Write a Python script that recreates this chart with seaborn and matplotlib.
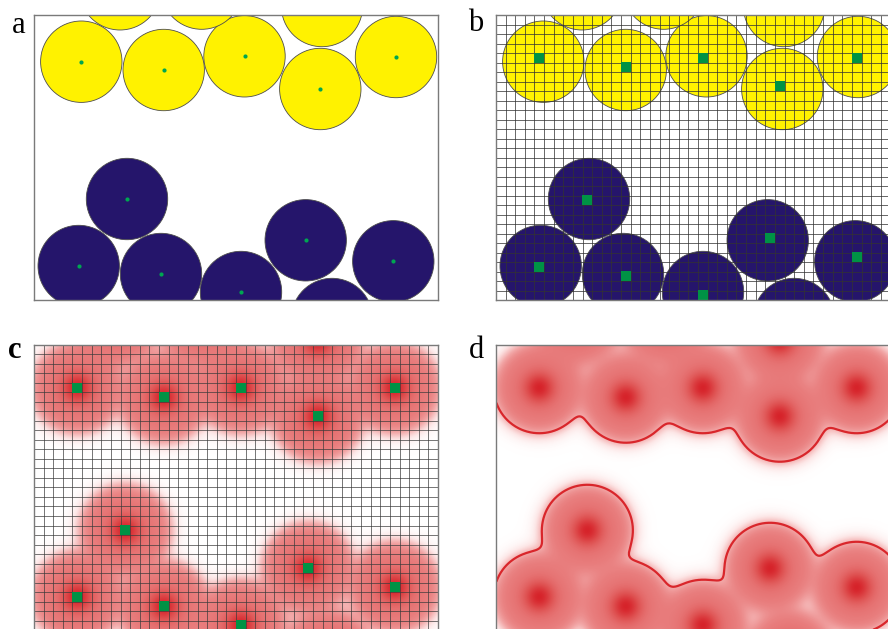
import numpy as np
import matplotlib
matplotlib.use("Agg")
import matplotlib.pyplot as plt
from matplotlib.patches import Circle
from matplotlib.colors import LinearSegmentedColormap
import seaborn as sns

sns.set_style("white")
plt.rcParams['font.family'] = ['Liberation Serif', 'DejaVu Serif']

# ---------------- data (frame pixel units, y downward) ----------------
frame_w = 404
frame_h = 285
n_cols = 42
n_rows = 30
radius = 40.7

yellow_x = [47.3, 129.7, 210.5, 286.3, 362.0, 86.0, 167.7, 288.0]
yellow_y = [46.7, 55.0, 41.3, 74.0, 42.0, -25.7, -26.4, -9.0]
blue_x = [93.0, 44.7, 127.0, 207.0, 271.7, 359.3, 298.0]
blue_y = [184.0, 251.0, 259.0, 277.0, 225.3, 246.3, 304.0]

panel_labels = ["a", "b", "c", "d"]

# ---------------- styles ----------------
YELLOW = "#fff200"
NAVY = "#25156b"
GREEN = "#009245"
EDGE = "#4d4d4d"
FRAME = "#7a7a7a"
CONTOUR = "#d9262b"

W, H = 888, 629
fig = plt.figure(figsize=(W / 100, H / 100), dpi=100)

def add_ax(left, top):
    return fig.add_axes([left / W, 1 - (top + frame_h) / H, frame_w / W, frame_h / H])

ax_a = add_ax(34, 15)
ax_b = add_ax(496, 15)
ax_c = add_ax(34, 345)
ax_d = add_ax(496, 345)

all_x = np.array(yellow_x + blue_x)
all_y = np.array(yellow_y + blue_y)

cw = frame_w / n_cols
ch = frame_h / n_rows
# particle centres snapped to the centre of the grid cell that contains them
grid_x = (np.floor(all_x / cw) + 0.5) * cw
grid_y = (np.floor(all_y / ch) + 0.5) * ch
inside = (all_x >= 0) & (all_x < frame_w) & (all_y >= 0) & (all_y < frame_h)
snap_x = grid_x[inside]
snap_y = grid_y[inside]


def style_frame(ax):
    ax.set_xlim(0, frame_w)
    ax.set_ylim(frame_h, 0)
    ax.set_xticks([])
    ax.set_yticks([])
    ax.set_xlabel("")
    ax.set_ylabel("")
    for s in ax.spines.values():
        s.set_visible(True)
        s.set_color(FRAME)
        s.set_linewidth(1.0)
        s.set_zorder(10)


def draw_particles(ax):
    for xs, ys, col in ((yellow_x, yellow_y, YELLOW), (blue_x, blue_y, NAVY)):
        for x, y in zip(xs, ys):
            ax.add_patch(Circle((x, y), radius, facecolor=col, edgecolor=EDGE,
                                linewidth=0.6, zorder=2))


def draw_grid(ax, color, alpha):
    gx = np.linspace(0, frame_w, n_cols + 1)
    gy = np.linspace(0, frame_h, n_rows + 1)
    ax.vlines(gx, 0, frame_h, color=color, linewidth=0.7, alpha=alpha, zorder=3)
    ax.hlines(gy, 0, frame_w, color=color, linewidth=0.7, alpha=alpha, zorder=3)


# ---------------- panel a ----------------
draw_particles(ax_a)
sns.scatterplot(x=all_x[inside], y=all_y[inside], ax=ax_a, color="#00a651", s=9,
                linewidth=0, zorder=4, legend=False)
style_frame(ax_a)

# ---------------- panel b ----------------
draw_particles(ax_b)
draw_grid(ax_b, "#333333", 0.75)
sns.scatterplot(x=snap_x, y=snap_y, ax=ax_b, color=GREEN, marker="s", s=44,
                linewidth=0, zorder=5, legend=False)
style_frame(ax_b)

# ---------------- field for c and d (centred on snapped cells) ----------------
gxp, gyp = np.meshgrid(np.arange(frame_w) + 0.5, np.arange(frame_h) + 0.5)
prod = np.ones_like(gxp)
peak = np.zeros_like(gxp)
for x, y in zip(grid_x, grid_y):
    d = np.hypot(gxp - x, gyp - y)
    p = 1.0 / (1.0 + np.exp((d - 47.3) / 4.5))
    prod *= (1.0 - p)
    peak += np.exp(-(d / 15.0) ** 2)
P = 1.0 - prod
V = 0.6 * P + 0.4 * np.clip(peak, 0, 1)

cmap = LinearSegmentedColormap.from_list(
    "redfield", [(0.0, "#ffffff"), (0.15, "#fce6e6"), (0.4, "#f1a4a4"),
                 (0.6, "#e77878"), (0.8, "#de5050"), (1.0, "#d6232a")])


def field_heatmap(ax):
    sns.heatmap(V, ax=ax, cmap=cmap, vmin=0, vmax=1, cbar=False,
                xticklabels=False, yticklabels=False, linewidths=0)
    mesh = ax.collections[0]
    mesh.set_edgecolor("face")
    mesh.set_linewidth(0)
    mesh.set_antialiased(False)


# ---------------- panel c ----------------
field_heatmap(ax_c)
draw_grid(ax_c, "#3a3a3a", 0.7)
sns.scatterplot(x=snap_x, y=snap_y, ax=ax_c, color=GREEN, marker="s", s=44,
                linewidth=0, zorder=5, legend=False)
style_frame(ax_c)

# ---------------- panel d ----------------
field_heatmap(ax_d)
top_cut = 14
cs = ax_d.contour(gxp[top_cut:], gyp[top_cut:], P[top_cut:], levels=[0.6],
                  colors=CONTOUR, linewidths=1.6, zorder=4)
# keep only the large boundary curves, drop tiny enclosed pockets
polys = []
for path in cs.get_paths():
    polys.extend(path.to_polygons(closed_only=False))
cs.remove()
for poly in polys:
    ext = np.ptp(poly, axis=0)
    if ext.max() > 25:
        ax_d.plot(poly[:, 0], poly[:, 1], color=CONTOUR, linewidth=1.6, zorder=4)
style_frame(ax_d)

# ---------------- labels ----------------
label_pos = [(12, 33), (468, 31), (8, 358), (469, 358)]
for lab, (px, py) in zip(panel_labels, label_pos):
    fig.text(px / W, 1 - py / H, lab, fontsize=22,
             fontweight="bold" if lab == "c" else "normal",
             ha="left", va="baseline", color="black")

fig.savefig("out.png", dpi=100)
